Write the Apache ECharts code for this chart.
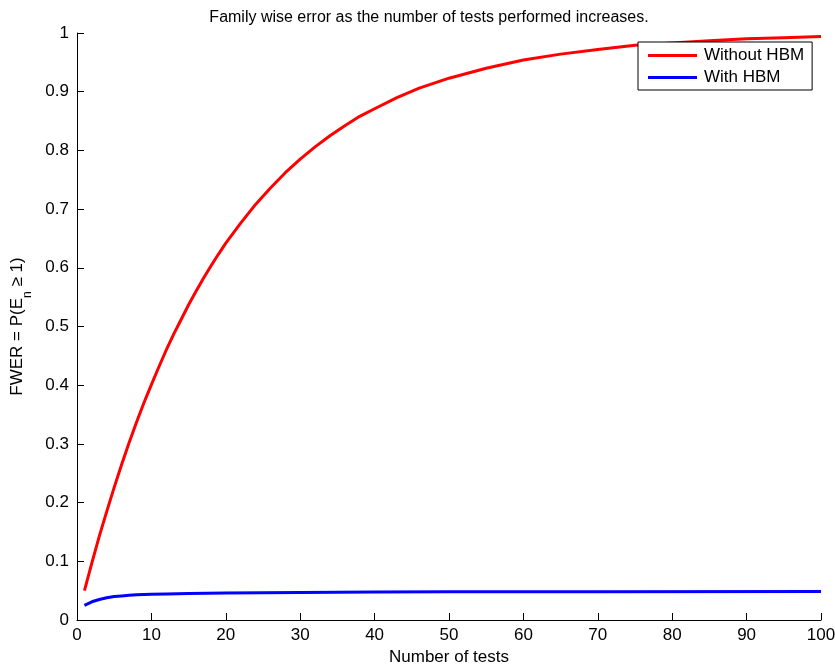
<!DOCTYPE html>
<html>
<head>
<meta charset="utf-8">
<script src="https://cdn.jsdelivr.net/npm/echarts@6/dist/echarts.min.js"></script>
<style>
  html, body { margin: 0; padding: 0; background: #fff; }
  #chart { width: 835px; height: 666px; }
</style>
</head>
<body>
<div id="chart"></div>
<script>
// Number of tests at which each curve is sampled
const redTests = [1, 2, 3, 4, 5, 6, 7, 8, 9, 10, 11, 12, 13, 14, 15, 16, 17, 18, 19, 20,
  22, 24, 26, 28, 30, 32, 34, 36, 38, 40, 43, 46, 50, 55, 60, 65, 70, 75, 80, 85, 90, 95, 100];
// FWER without HBM correction
const withoutHBM = [0.05, 0.0975, 0.143, 0.185, 0.226, 0.265, 0.302, 0.337, 0.370, 0.401, 0.431, 0.460, 0.487, 0.512, 0.537, 0.560, 0.582, 0.603, 0.623, 0.642,
  0.676, 0.708, 0.736, 0.762, 0.785, 0.806, 0.825, 0.842, 0.858, 0.871, 0.890, 0.906, 0.923, 0.940, 0.954, 0.964, 0.972, 0.979, 0.983, 0.987, 0.990, 0.992, 0.994];

const blueTests = [1, 2, 3, 4, 5, 6, 7, 8, 10, 12, 15, 20, 30, 40, 50, 70, 100];
// FWER with HBM correction
const withHBM = [0.025, 0.031, 0.035, 0.038, 0.040, 0.041, 0.042, 0.043, 0.044, 0.0445, 0.045, 0.046, 0.047, 0.0475, 0.048, 0.0482, 0.0485];

const xTicks = [0, 10, 20, 30, 40, 50, 60, 70, 80, 90, 100];
const yTicks = [0, 0.1, 0.2, 0.3, 0.4, 0.5, 0.6, 0.7, 0.8, 0.9, 1];

const FONT = '"Liberation Sans", Arial, Helvetica, sans-serif';
const pairs = (xs, ys) => xs.map((x, i) => [x, ys[i]]);

const chart = echarts.init(document.getElementById('chart'), null, { renderer: 'canvas' });

const axisCommon = {
  axisLine: { show: true, lineStyle: { color: '#000', width: 1 } },
  axisTick: { show: true, inside: true, length: 7, lineStyle: { color: '#000' } },
  splitLine: { show: false },
  axisLabel: { color: '#000', fontFamily: FONT, fontSize: 17 },
  nameTextStyle: { color: '#000', fontFamily: FONT, fontSize: 17 }
};

chart.setOption({
  animation: false,
  backgroundColor: '#fff',
  title: {
    text: 'Family wise error as the number of tests performed increases.',
    left: 424,
    textAlign: 'center',
    top: 5,
    textStyle: { color: '#000', fontFamily: FONT, fontSize: 16, fontWeight: 'normal' }
  },
  grid: { left: 77, right: 14, top: 33, bottom: 46, containLabel: false, outerBoundsMode: 'none' },
  legend: {
    orient: 'vertical',
    left: 638,
    top: 42,
    backgroundColor: '#fff',
    borderColor: '#000',
    borderWidth: 1,
    borderRadius: 0,
    padding: [5, 8, 4, 10],
    itemGap: 5,
    itemWidth: 49,
    itemHeight: 3,
    icon: 'rect',
    textStyle: { color: '#000', fontFamily: FONT, fontSize: 17, padding: [0, 0, 0, 2] },
    data: ['Without HBM', 'With HBM']
  },
  xAxis: Object.assign({}, axisCommon, {
    type: 'value',
    min: xTicks[0],
    max: xTicks[xTicks.length - 1],
    interval: xTicks[1] - xTicks[0],
    name: 'Number of tests',
    nameLocation: 'middle',
    nameGap: 28,
    axisLabel: Object.assign({}, axisCommon.axisLabel, { margin: 7 })
  }),
  yAxis: Object.assign({}, axisCommon, {
    type: 'value',
    min: yTicks[0],
    max: yTicks[yTicks.length - 1],
    interval: 0.1,
    name: '{m|FWER = P(E}{s|n}{m| ≥ 1)}',
    nameLocation: 'middle',
    nameRotate: 90,
    nameGap: 50,
    nameTextStyle: {
      color: '#000', fontFamily: FONT, fontSize: 17,
      rich: {
        m: { fontFamily: FONT, fontSize: 17, color: '#000', lineHeight: 20, verticalAlign: 'middle' },
        s: { fontFamily: FONT, fontSize: 12, color: '#000', lineHeight: 20, verticalAlign: 'bottom', padding: [0, 0, -7, 0] }
      }
    },
    axisLabel: Object.assign({}, axisCommon.axisLabel, {
      margin: 8,
      formatter: v => String(Math.round(v * 10) / 10)
    })
  }),
  series: [
    {
      name: 'Without HBM',
      type: 'line',
      data: pairs(redTests, withoutHBM),
      smooth: false,
      showSymbol: false,
      symbol: 'none',
      color: '#ff0000',
      lineStyle: { color: '#ff0000', width: 3, join: 'round' }
    },
    {
      name: 'With HBM',
      type: 'line',
      data: pairs(blueTests, withHBM),
      smooth: false,
      showSymbol: false,
      symbol: 'none',
      color: '#0000ff',
      lineStyle: { color: '#0000ff', width: 3, join: 'round' }
    }
  ]
});
</script>
</body>
</html>
